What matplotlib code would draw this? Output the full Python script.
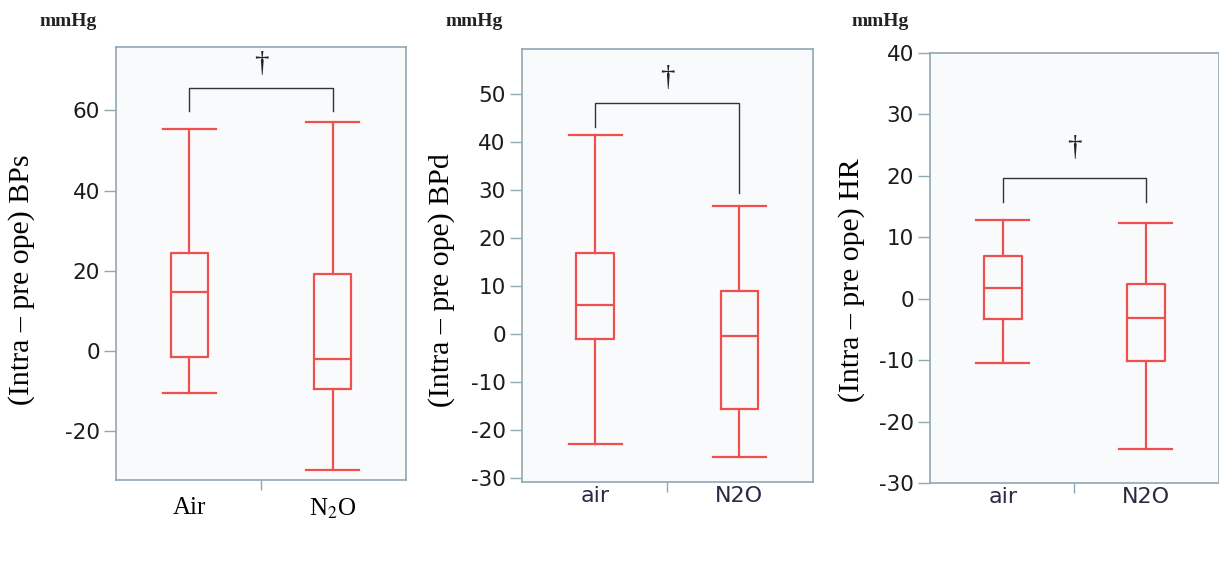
import matplotlib
matplotlib.use('Agg')
import matplotlib.pyplot as plt

plt.rcParams['mathtext.fontset'] = 'stix'

# box statistics: whisker low, Q1, median, Q3, whisker high
groups_bps = ['Air', 'N$_2$O']
bps_air = [-10.4, -1.5, 14.8, 24.3, 55.4]
bps_n2o = [-29.8, -9.4, -1.9, 19.3, 57.2]

groups_bpd = ['air', 'N2O']
bpd_air = [-22.9, -1.0, 6.1, 16.9, 41.5]
bpd_n2o = [-25.5, -15.6, -0.3, 9.0, 26.8]

groups_hr = ['air', 'N2O']
hr_air = [-10.5, -3.3, 1.7, 7.0, 12.8]
hr_n2o = [-24.4, -10.1, -3.1, 2.4, 12.3]

ylabels = ['(Intra \u2013 pre ope) BPs', '(Intra \u2013 pre ope) BPd', '(Intra \u2013 pre ope) HR']
yticks = [[-20, 0, 20, 40, 60], list(range(-30, 51, 10)), list(range(-30, 41, 10))]
ylims = [(-32.2, 75.8), (-30.7, 59.4), (-30, 40)]

# bracket: bar height, left leg end, right leg end, dagger y
brackets = [(65.6, 59.8, 59.8, 71.5), (48.3, 43.3, 29.4, 53.5), (19.6, 15.8, 15.8, 24.5)]

red = '#f0504c'
spine_c = '#8fa8b4'
face_c = '#f9fafc'

fig = plt.figure(figsize=(12.19, 5.73), dpi=100)
fig.patch.set_facecolor('white')

rects = [[0.0952, 0.1623, 0.2379, 0.7557],
         [0.4280, 0.1593, 0.2387, 0.7547],
         [0.7629, 0.1565, 0.2370, 0.7515]]

data = [(groups_bps, bps_air, bps_n2o), (groups_bpd, bpd_air, bpd_n2o), (groups_hr, hr_air, hr_n2o)]
ylab_x = [22, 442, 852]
mm_x = [40, 445, 852]

for i, (groups, a, b) in enumerate(data):
    ax = fig.add_axes(rects[i])
    ax.set_facecolor(face_c)
    stats = []
    for name, s in zip(groups, [a, b]):
        stats.append({'whislo': s[0], 'q1': s[1], 'med': s[2], 'q3': s[3], 'whishi': s[4],
                      'label': name, 'fliers': []})
    lp = dict(color=red, linewidth=1.6)
    ax.bxp(stats, positions=[0, 1], widths=0.26, showfliers=False,
           boxprops=lp, whiskerprops=lp, capprops=lp, medianprops=lp, capwidths=0.37)

    ax.set_xlim(-0.51, 1.51)
    ax.set_ylim(*ylims[i])
    ax.set_yticks(yticks[i])
    ax.set_yticklabels([str(t) for t in yticks[i]])

    for sp in ax.spines.values():
        sp.set_color(spine_c)
        sp.set_linewidth(1.2)

    ax.tick_params(axis='y', length=8.5, width=1.0, color=spine_c, labelsize=15.5,
                   labelcolor='#1c1c1c', pad=3)
    # only the separator tick between groups
    ax.set_xticks([0.5])
    ax.set_xticklabels([''])
    ax.tick_params(axis='x', length=7, width=1.0, color=spine_c)
    ax.set_xticks([0, 1], minor=True)
    if i == 0:
        ax.set_xticklabels(groups, minor=True, fontsize=18, family='Liberation Serif', color='black')
        ax.tick_params(axis='x', which='minor', length=0, pad=12)
    else:
        ax.set_xticklabels(groups, minor=True, fontsize=16, family='DejaVu Sans', color='#2a2a44')
        ax.tick_params(axis='x', which='minor', length=0, pad=3)

    # significance bracket
    h, l1, l2, dy = brackets[i]
    ax.plot([0, 0, 1, 1], [l1, h, h, l2], color='#333333', linewidth=1.0)
    ax.text(0.5, dy, '\u2020', ha='center', va='center', fontsize=21,
            family='Liberation Serif', color='#222222')

    fig.text(ylab_x[i] / 1219, 1 - 280 / 573, ylabels[i], rotation=90, ha='center', va='center',
             fontsize=21.5, family='Liberation Serif', color='black')
    fig.text(mm_x[i] / 1219, 1 - 22 / 573, 'mmHg', ha='left', va='center', fontsize=14,
             family='Liberation Serif', fontweight='bold', color='#222222')

fig.savefig('out.png', dpi=100, facecolor='white')
